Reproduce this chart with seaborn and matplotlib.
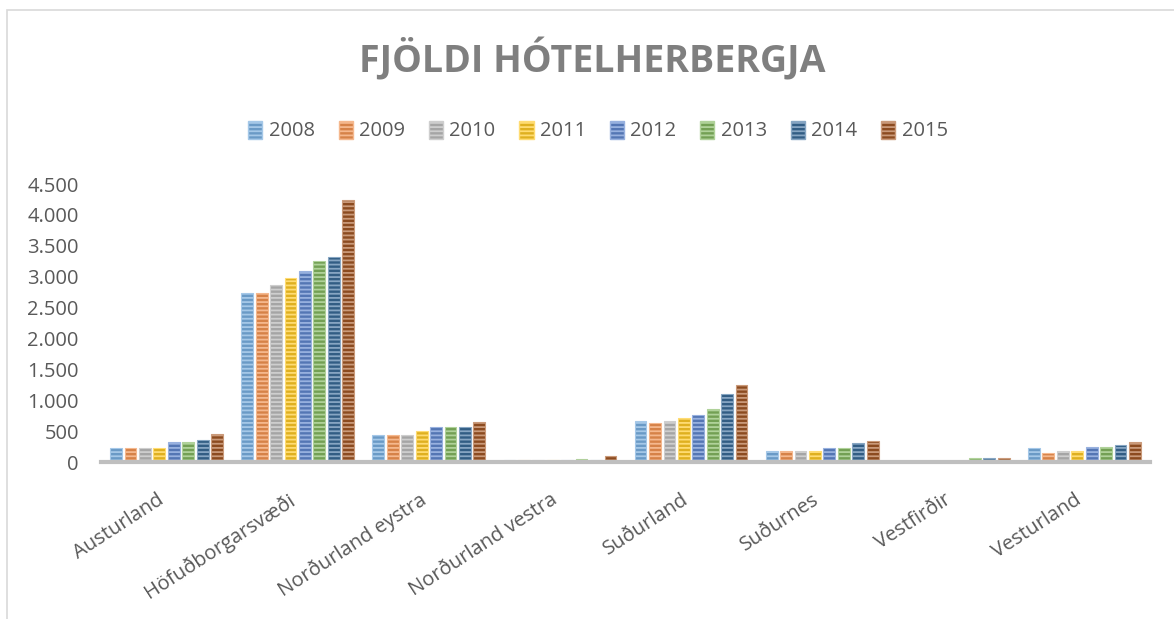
import matplotlib
matplotlib.use("Agg")
import matplotlib.pyplot as plt
import matplotlib.colors as mcolors
import matplotlib.transforms as mtransforms
from matplotlib.ticker import FuncFormatter, MultipleLocator
from matplotlib.patches import Rectangle
import seaborn as sns
import pandas as pd

regions = ["Austurland", "Höfuðborgarsvæði", "Norðurland eystra", "Norðurland vestra",
           "Suðurland", "Suðurnes", "Vestfirðir", "Vesturland"]
years = ["2008", "2009", "2010", "2011", "2012", "2013", "2014", "2015"]

v2008 = [225, 2740, 430, 30, 660, 175, 0, 220]
v2009 = [225, 2740, 430, 30, 630, 175, 0, 145]
v2010 = [225, 2870, 430, 30, 660, 175, 0, 170]
v2011 = [225, 2980, 500, 30, 710, 175, 0, 170]
v2012 = [330, 3090, 560, 30, 765, 220, 0, 250]
v2013 = [330, 3260, 560, 55, 860, 220, 65, 250]
v2014 = [355, 3315, 560, 30, 1105, 305, 65, 275]
v2015 = [460, 4240, 640, 100, 1250, 335, 65, 330]

colors = ["#5B9BD5", "#ED7D31", "#A5A5A5", "#FFC000", "#4472C4", "#70AD47", "#255E91", "#9E480E"]

series = [v2008, v2009, v2010, v2011, v2012, v2013, v2014, v2015]
rows = []
for y, vals in zip(years, series):
    for r, v in zip(regions, vals):
        rows.append({"region": r, "year": y, "value": v})
df = pd.DataFrame(rows)

sns.set_theme(style="white")
plt.rcParams["font.family"] = ["Open Sans", "DejaVu Sans"]
plt.rcParams["hatch.linewidth"] = 1.3

fig = plt.figure(figsize=(11.74, 6.19), dpi=100)
ax = fig.add_axes([101 / 1174, 157 / 619, (1150 - 101) / 1174, 278 / 619])

sns.barplot(data=df, x="region", y="value", hue="year", order=regions, hue_order=years,
            palette=colors, width=0.88, gap=0.18, ax=ax, legend=True)

def lighten(c, f):
    r, g, b = mcolors.to_rgb(c)
    return (r + (1 - r) * f, g + (1 - g) * f, b + (1 - b) * f)

for cont, c in zip(ax.containers, colors):
    for p in cont.patches:
        p.set_hatch("----")
        p.set_edgecolor(lighten(c, 0.45))
        p.set_linewidth(0.8)

ax.set_ylim(0, 4500)
ax.set_xlim(-0.5, len(regions) - 0.5)
ax.yaxis.set_major_locator(MultipleLocator(500))
ax.yaxis.set_major_formatter(FuncFormatter(lambda v, p: f"{v:,.0f}".replace(",", ".")))
ax.set_xlabel("")
ax.set_ylabel("")
for s in ["top", "right", "left"]:
    ax.spines[s].set_visible(False)
ax.spines["bottom"].set_color("#BFBFBF")
ax.spines["bottom"].set_linewidth(3)
ax.tick_params(axis="y", length=0, labelsize=14.5, labelcolor="#595959", pad=16)
ax.tick_params(axis="x", length=0, labelsize=14.5, labelcolor="#595959", pad=20)
offset = mtransforms.ScaledTranslation(-10 / 100, 0, fig.dpi_scale_trans)
for lbl in ax.get_xticklabels():
    lbl.set_rotation(33)
    lbl.set_ha("right")
    lbl.set_va("top")
    lbl.set_rotation_mode("anchor")
    lbl.set_transform(lbl.get_transform() + offset)

# legend
handles, labels = ax.get_legend_handles_labels()
for h, c in zip(handles, colors):
    h.set_hatch("----")
    h.set_edgecolor(lighten(c, 0.45))
ax.legend_.remove()
fig.legend(handles, labels, loc="center", bbox_to_anchor=(598 / 1174, 1 - 131 / 619),
           ncol=8, frameon=False, fontsize=14.5, labelcolor="#595959",
           handlelength=0.7, handleheight=1.0, handletextpad=0.3, columnspacing=1.2)

fig.text(592 / 1174, 1 - 60 / 619, "FJÖLDI HÓTELHERBERGJA", ha="center", va="center",
         fontsize=27, fontweight="bold", color="#7F7F7F")

fig.patches.append(Rectangle((7 / 1174, -0.01), 1.1, 1 - 10 / 619 + 0.01,
                             transform=fig.transFigure, fill=False,
                             edgecolor="#D9D9D9", linewidth=1.2))

fig.savefig("out.png", dpi=100)
